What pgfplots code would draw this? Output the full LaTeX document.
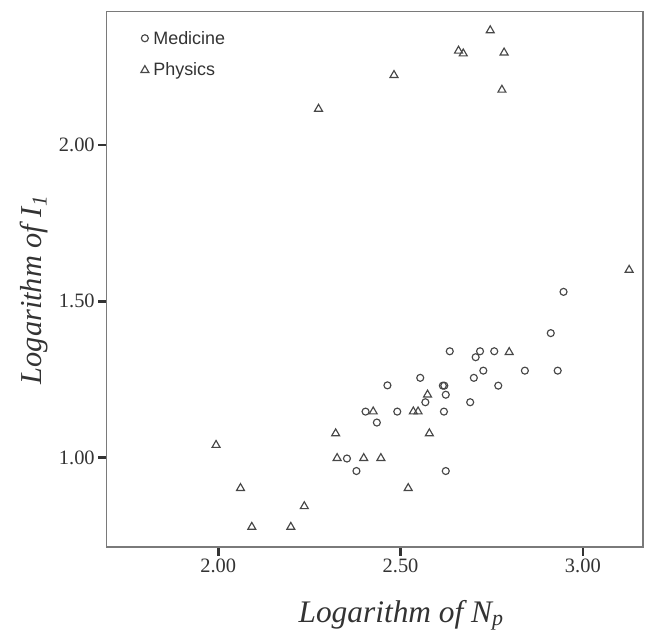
\documentclass[border=0pt]{standalone}
\usepackage{fontspec}
\setmainfont{Liberation Serif}
\newfontfamily\arial{Liberation Sans}
\usepackage{pgfplots}
\pgfplotsset{compat=1.18}
\definecolor{mk}{HTML}{474747}
\definecolor{frame}{HTML}{7A7A7A}
\definecolor{txt}{HTML}{333333}

\begin{document}
\begin{tikzpicture}
\useasboundingbox (-106.7bp,-89bp) rectangle (538.3bp,547bp);
\begin{axis}[
    at={(0,0)}, anchor=south west,
    scale only axis,
    width=536.3bp, height=535.3bp,
    xmin=1.694, xmax=3.165,
    ymin=0.714, ymax=2.426,
    xtick={2,2.5,3}, ytick={1,1.5,2},
    tick pos=left,
    tick align=outside,
    major tick length=8.5bp,
    every major tick/.append style={line width=2.6bp, color=txt},
    axis line style={frame, line width=1.3bp},
    ticklabel style={font=\fontsize{20.5}{20.5}\selectfont, text=txt},
    /pgf/number format/fixed,
    /pgf/number format/fixed zerofill,
    /pgf/number format/precision=2,
    /pgf/number format/assume math mode=true,
    xlabel={Logarithm of N\textsubscript{p}},
    ylabel={Logarithm of I\textsubscript{1}},
    xlabel style={font=\itshape\fontsize{31.5}{31.5}\selectfont, text=txt,
        at={(axis description cs:0.549,-0.1401)}, anchor=base, inner sep=0pt},
    ylabel style={font=\itshape\fontsize{30.5}{30.5}\selectfont, text=txt,
        at={(axis description cs:-0.1225,0.48)}, anchor=base, inner sep=0pt},
    legend style={at={(axis description cs:0.0634,0.968)}, anchor=north west,
        draw=none, fill=none, font=\arial\fontsize{18}{18}\selectfont,
        text=txt, row sep=13.5bp, column sep=2.5bp, inner sep=0pt},
    legend cell align=left,
    legend image code/.code={\draw[#1] plot coordinates {(0bp,0bp)};},
]

% Medicine
\addplot[only marks, mark=o, mark size=3.5bp, draw=mk,
    mark options={line width=1.15bp}]
    coordinates {
    (2.353,0.997)(2.379,0.957)(2.404,1.147)(2.435,1.112)(2.464,1.231)
    (2.491,1.147)(2.554,1.255)(2.568,1.177)(2.616,1.230)(2.620,1.230)
    (2.624,1.201)(2.619,1.147)(2.624,0.957)(2.635,1.340)(2.691,1.177)
    (2.701,1.255)(2.706,1.321)(2.718,1.340)(2.727,1.278)(2.757,1.340)
    (2.768,1.230)(2.841,1.278)(2.912,1.398)(2.931,1.278)(2.947,1.530)
    };
\addlegendentry{Medicine}

% Physics
\addplot[only marks, mark=triangle, mark size=4.6bp, draw=mk,
    mark options={line width=1.15bp}]
    coordinates {
    (1.994,1.040)(2.061,0.902)(2.092,0.778)(2.199,0.778)(2.236,0.844)
    (2.275,2.115)(2.322,1.077)(2.326,0.998)(2.399,0.998)(2.425,1.147)
    (2.446,0.998)(2.482,2.223)(2.521,0.902)(2.535,1.147)(2.548,1.147)
    (2.574,1.201)(2.579,1.077)(2.659,2.301)(2.672,2.292)(2.746,2.366)
    (2.778,2.176)(2.784,2.295)(2.798,1.337)(3.127,1.600)
    };
\addlegendentry{Physics}

\end{axis}
\end{tikzpicture}
\end{document}
